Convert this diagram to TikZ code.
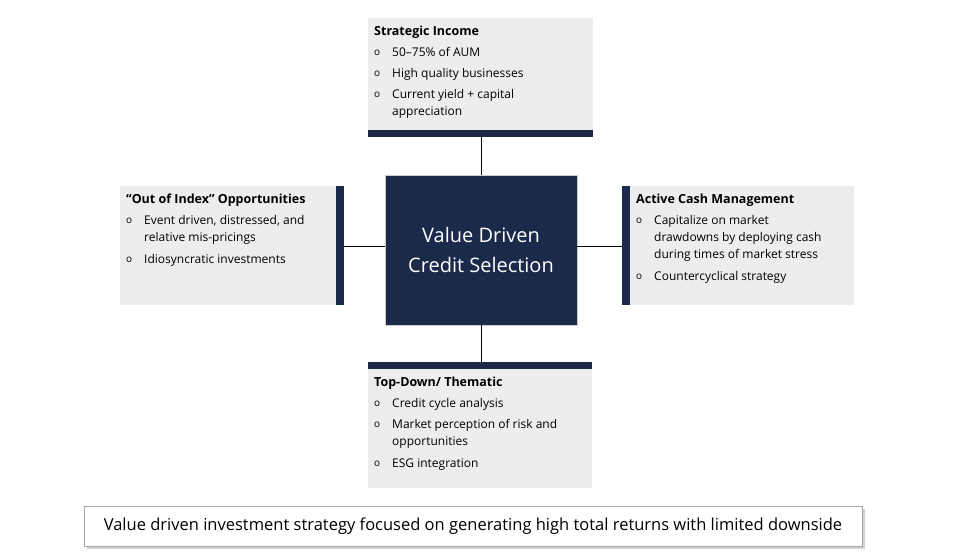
\documentclass[tikz,border=0pt]{standalone}
\usepackage{fontspec}
\setmainfont{Open Sans}
\definecolor{navy}{HTML}{1B2A4A}
\definecolor{boxbg}{HTML}{EDEDED}
\begin{document}
\begin{tikzpicture}[x=1pt,y=-1pt,
  boxbg/.style={fill=boxbg,draw=none},
  bar/.style={fill=navy,draw=none},
  conn/.style={draw=black,line width=0.6pt},
  txt/.style={anchor=north west,inner sep=0pt,font=\fontsize{12}{17}\selectfont,align=left},
  ttl/.style={anchor=north west,inner sep=0pt,font=\fontsize{12.5}{15}\selectfont\bfseries},
  bul/.style={anchor=north west,inner sep=0pt,font=\fontsize{10}{12}\selectfont}]
\useasboundingbox (0,0) rectangle (960,559);
\fill[white] (0,0) rectangle (960,559);
% boxes
\fill[boxbg] (368,18) rectangle (593,137);
\fill[bar] (368,130) rectangle (593,137);
\fill[boxbg] (120,186) rectangle (344,305);
\fill[bar] (336,186) rectangle (344,305);
\fill[boxbg] (622,186) rectangle (854,305);
\fill[bar] (622,186) rectangle (630,305);
\fill[boxbg] (368,362) rectangle (592,488);
\fill[bar] (368,362) rectangle (592,369);
\coordinate (tb) at (481,137);
\coordinate (bt) at (481,362);
\coordinate (lr) at (344,246);
\coordinate (rl) at (622,246);
\node[draw=gray!40,fill=navy,minimum width=192pt,minimum height=150pt,inner sep=0pt,
  text=white,font=\fontsize{20}{30}\selectfont,align=center] (c) at (481,250)
  {Value Driven\\Credit Selection};
\draw[conn] (c.north) -- (tb);
\draw[conn] (c.south) -- (bt);
\draw[conn] (lr) -- (lr -| c.west);
\draw[conn] (rl) -- (rl -| c.east);
% top text
\node[ttl] (t0) at (374,26) {Strategic Income};
\foreach \y/\s in {47/{50–75\% of AUM},68/{High quality businesses},89/{Current yield + capital\\appreciation}}{
  \node[bul] at (374,\y+3) {o}; \node[txt] at (392,\y) {\s};}
% left
\node[ttl] (l0) at (126,194) {“Out of Index” Opportunities};
\foreach \y/\s in {215/{Event driven, distressed, and\\relative mis-pricings},254/{Idiosyncratic investments}}{
  \node[bul] at (126,\y+3) {o}; \node[txt] at (144,\y) {\s};}
% right
\node[ttl] (r0) at (636,194) {Active Cash Management};
\foreach \y/\s in {215/{Capitalize on market\\drawdowns by deploying cash\\during times of market stress},271/{Countercyclical strategy}}{
  \node[bul] at (636,\y+3) {o}; \node[txt] at (654,\y) {\s};}
% bottom
\node[ttl] (b0) at (374,377) {Top-Down/ Thematic};
\foreach \y/\s in {398/{Credit cycle analysis},419/{Market perception of risk and\\opportunities},458/{ESG integration}}{
  \node[bul] at (374,\y+3) {o}; \node[txt] at (392,\y) {\s};}
% banner
\fill[gray!35] (87,509) rectangle (865,549);
\node[draw=gray!70,fill=white,minimum width=778pt,minimum height=40pt,inner sep=0pt,
  font=\fontsize{16.5}{19}\selectfont] (ban) at (473,526)
  {Value driven investment strategy focused on generating high total returns with limited downside};
\end{tikzpicture}
\end{document}
